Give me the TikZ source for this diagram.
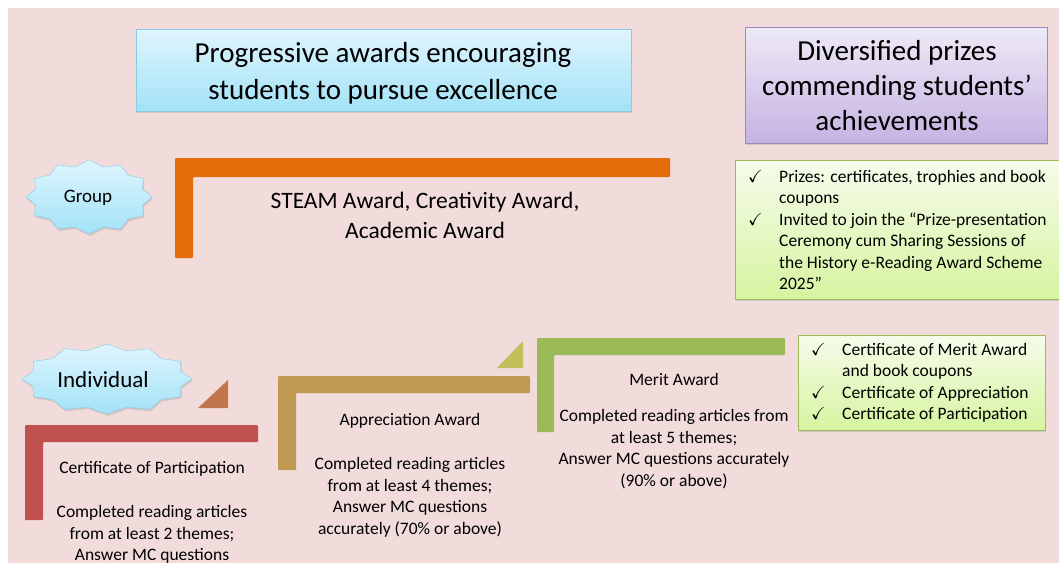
\documentclass[tikz,border=0pt]{standalone}
\usepackage{amsmath,amssymb}
\usepackage{fontspec}
\setmainfont{Carlito}
\usepackage{xcolor}
\usepackage{tikz}
\usetikzlibrary{shadows}
\definecolor{bgpink}{HTML}{F2DCDB}
\definecolor{orangebar}{HTML}{E46C0A}
\definecolor{redbar}{HTML}{C0504D}
\definecolor{tanbar}{HTML}{BF9A52}
\definecolor{greenbar}{HTML}{9BBB59}
\definecolor{browntri}{HTML}{C1754F}
\definecolor{olivetri}{HTML}{C2BE5A}
\definecolor{skytop}{HTML}{DFF5FD}
\definecolor{skybot}{HTML}{A3E2F7}
\definecolor{skyline}{HTML}{86CCE4}
\definecolor{lavtop}{HTML}{EEEAF6}
\definecolor{lavbot}{HTML}{C5B3E2}
\definecolor{lavline}{HTML}{9A88C0}
\definecolor{limetop}{HTML}{F6FCEB}
\definecolor{limebot}{HTML}{D6F4A0}
\def\orangeL{(175,158) -- (670,158) -- (670,177) -- (193,177) -- (193,258) -- (175,258) -- cycle}
\def\redL{(25,425) -- (258,425) -- (258,442) -- (43,442) -- (43,520) -- (25,520) -- cycle}
\def\tanL{(278,376) -- (530,376) -- (530,393) -- (296,393) -- (296,470) -- (278,470) -- cycle}
\def\greenL{(537,338) -- (785,338) -- (785,355) -- (554,355) -- (554,432) -- (537,432) -- cycle}
\def\groupstar{plot[samples at={0,15,...,345}] ({89+63*(1-0.12*mod(\x/15,2))*cos(\x)},{197+37*(1-0.16*mod(\x/15,2))*sin(\x)}) -- cycle}
\def\indivstar{plot[samples at={0,15,...,345}] ({107+85*(1-0.1*mod(\x/15,2))*cos(\x)},{379+35*(1-0.17*mod(\x/15,2))*sin(\x)}) -- cycle}
\tikzset{
  titlebox/.style={drop shadow={opacity=0.25,shadow xshift=1pt,shadow yshift=-2pt}},
  skyfill/.style={titlebox,top color=skytop,bottom color=skybot,draw=skyline},
  limefill/.style={titlebox,top color=limetop,bottom color=limebot,draw=greenbar},
  bodytext/.style={text=black,align=center,font=\fontsize{17.5}{21.5}\selectfont},
  checklist/.style={text=black,align=left,anchor=north west,inner sep=0pt,font=\fontsize{17.5}{21.5}\selectfont}
}
\newcommand{\tick}{\makebox[31pt][l]{$\checkmark$}}
\newcommand{\notick}{\hspace*{31pt}}
\begin{document}
\begin{tikzpicture}[x=1pt,y=-1pt]
    \useasboundingbox (0,0) rectangle (1059,563);
    \fill[white] (0,0) rectangle (1059,563);
    \fill[bgpink] (8,8) rectangle (1059,563);
      \begin{scope}
    \shade[skyfill] (136,29) rectangle (631,111);
    \shade[titlebox,top color=lavtop,bottom color=lavbot,draw=lavline] (745,27) rectangle (1047,143);
    \shade[limefill] (735,160) rectangle (1059,299);
    \shade[limefill] (798,335) rectangle (1045,430);
      \end{scope}
      \node[text=black,align=center,font=\fontsize{29}{37}\selectfont] (progtitle) at (383,73) {Progressive awards encouraging\\students to pursue excellence};
      \node[text=black,align=center,font=\fontsize{29}{35}\selectfont] (divtitle) at (897,86) {Diversified prizes\\commending students'\\achievements};
      \node[checklist] (grouplist) at (748,170) {\tick Prizes: certificates, trophies and book\\\notick coupons\\\tick Invited to join the ``Prize-presentation\\\notick Ceremony cum Sharing Sessions of\\\notick the History e-Reading Award Scheme\\\notick 2025''};
      \node[checklist] (indivlist) at (811,343) {\tick Certificate of Merit Award\\\notick and book coupons\\\tick Certificate of Appreciation\\\tick Certificate of Participation};
      \begin{scope}
    \shade[skyfill] \groupstar;
    \shade[skyfill] \indivstar;
      \end{scope}
      \node[text=black,font=\fontsize{19}{22}\selectfont] (group) at (88,198) {Group};
      \node[text=black,font=\fontsize{23}{26}\selectfont] (individual) at (103,380) {Individual};
    \fill[orangebar,rounded corners=1pt] \orangeL;
    \fill[redbar,rounded corners=1pt] \redL;
    \fill[tanbar,rounded corners=1pt] \tanL;
    \fill[greenbar,rounded corners=1pt] \greenL;
    \fill[browntri] (198,408) -- (228,408) -- (228,380) -- cycle;
    \fill[olivetri] (497,368) -- (523,368) -- (523,341) -- cycle;
      \node[text=black,align=center,font=\fontsize{23.5}{30}\selectfont] (groupawards) at (425,215) {STEAM Award, Creativity Award,\\Academic Award};
      \node[bodytext] (partname) at (152,469) {Certificate of Participation};
      \node[bodytext,anchor=north] (partreq) at (152,502) {Completed reading articles\\from at least 2 themes;\\Answer MC questions};
      \node[bodytext] (apprname) at (410,421) {Appreciation Award};
      \node[bodytext,anchor=north] (apprreq) at (410,454) {Completed reading articles\\from at least 4 themes;\\Answer MC questions\\accurately (70\% or above)};
      \node[bodytext] (meritname) at (674,379) {Merit Award};
      \node[bodytext,anchor=north] (meritreq) at (674,406) {Completed reading articles from\\at least 5 themes;\\Answer MC questions accurately\\(90\% or above)};
    \end{tikzpicture}
\end{document}
